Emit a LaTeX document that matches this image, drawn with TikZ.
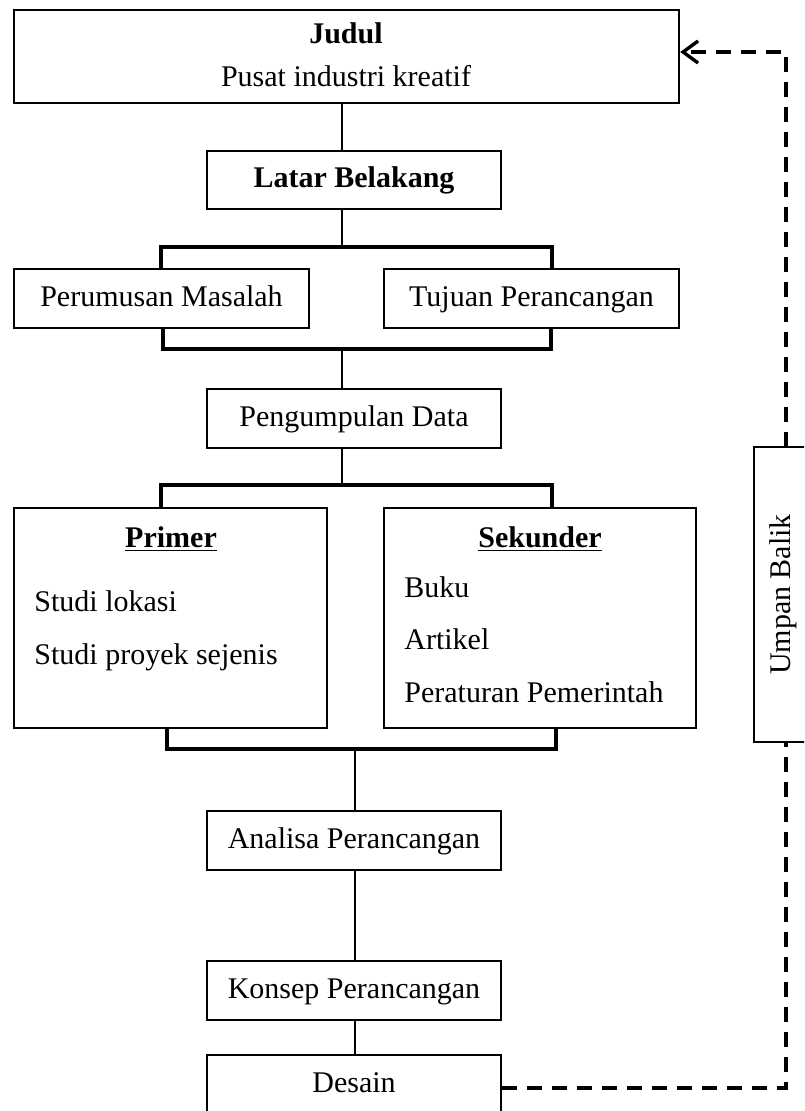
\documentclass[tikz,border=0pt]{standalone}
\usepackage{fontspec}
\setmainfont{Liberation Serif}
\usetikzlibrary{arrows.meta}
\tikzset{
  box/.style={draw, line width=1.2pt, fill=white, inner sep=0pt,
    font=\fontsize{15}{18}\selectfont, text height=11pt, text depth=3pt},
  txt/.style={inner sep=0pt, font=\fontsize{15}{18}\selectfont},
  link/.style={line width=1.4pt},
  bracket/.style={line width=1.7pt, line join=miter},
  fb/.style={line width=1.7pt, dash pattern=on 7.5pt off 5pt,
    -{Straight Barb[length=7.5pt,width=11pt]}}
}
\begin{document}
\begin{tikzpicture}[x=0.5pt,y=-0.5pt]
\useasboundingbox (0,0) rectangle (804,1111);
\fill[white] (0,0) rectangle (804,1111);
\clip (0,0) rectangle (804,1111);

% boxes
\node[box, minimum width=332.5pt, minimum height=46.5pt] (judul) at (346.5,56.5) {};
\node[txt, anchor=base] (judulT) at (346,44) {\textbf{Judul}};
\node[txt, anchor=base] (judulS) at (346,87) {Pusat industri kreatif};

\node[box, minimum width=147pt, minimum height=29pt] (latar) at (354,180) {\textbf{Latar Belakang}};
\node[box, minimum width=147.5pt, minimum height=29.5pt] (perumusan) at (161.5,298.5) {Perumusan Masalah};
\node[box, minimum width=147.5pt, minimum height=29.5pt] (tujuan) at (531.5,298.5) {Tujuan Perancangan};
\node[box, minimum width=147pt, minimum height=29.5pt] (pengumpulan) at (354,418.5) {Pengumpulan Data};

\node[box, minimum width=156.5pt, minimum height=110pt] (primer) at (170.5,618) {};
\node[txt, anchor=base] (primerT) at (171,547) {\textbf{\underline{Primer}}};
\node[txt, anchor=base west] (p1) at (34,611) {Studi lokasi};
\node[txt, anchor=base west] (p2) at (34,664) {Studi proyek sejenis};

\node[box, minimum width=156pt, minimum height=110pt] (sekunder) at (540,618) {};
\node[txt, anchor=base] (sekT) at (540,547) {\textbf{\underline{Sekunder}}};
\node[txt, anchor=base west] (s1) at (404,597) {Buku};
\node[txt, anchor=base west] (s2) at (404,649) {Artikel};
\node[txt, anchor=base west] (s3) at (404,702) {Peraturan Pemerintah};

\node[box, minimum width=147pt, minimum height=29.5pt] (analisa) at (354,840.5) {Analisa Perancangan};
\node[box, minimum width=147pt, minimum height=29.5pt] (konsep) at (354,990.5) {Konsep Perancangan};
\node[box, minimum width=147pt, minimum height=29.5pt] (desain) at (354,1084.5) {Desain};

% connector coordinates
\coordinate (c1) at (342,247);
\coordinate (b1L) at (161,247);
\coordinate (b1R) at (552,247);
\coordinate (c2) at (342,349);
\coordinate (b2L) at (163,349);
\coordinate (b2R) at (551,349);
\coordinate (c3) at (342,485);
\coordinate (b3L) at (161,485);
\coordinate (b3R) at (552,485);
\coordinate (c4) at (355,749);
\coordinate (b4L) at (167,749);
\coordinate (b4R) at (556,749);

\draw[link] (judul.south -| c1) -- (latar.north -| c1);
\draw[link] (latar.south -| c1) -- (c1);
\draw[bracket] (perumusan.north -| b1L) -- (b1L) -- (b1R) -- (tujuan.north -| b1R);

\draw[bracket] (perumusan.south -| b2L) -- (b2L) -- (b2R) -- (tujuan.south -| b2R);
\draw[link] (c2) -- (pengumpulan.north -| c2);

\draw[link] (pengumpulan.south -| c3) -- (c3);
\draw[bracket] (primer.north -| b3L) -- (b3L) -- (b3R) -- (sekunder.north -| b3R);

\draw[bracket] (primer.south -| b4L) -- (b4L) -- (b4R) -- (sekunder.south -| b4R);
\draw[link] (c4) -- (analisa.north -| c4);
\draw[link] (analisa.south -| c4) -- (konsep.north -| c4);
\draw[link] (konsep.south -| c4) -- (desain.north -| c4);

% feedback loop
\coordinate (fbB) at (786,1088);
\coordinate (fbT) at (786,52);
\draw[fb] (desain.east |- fbB) -- (fbB) -- (fbT) -- (judul.east |- fbT);

\node[box, minimum width=147.5pt, minimum height=28pt, rotate=90] (umpan) at (782,594.5) {Umpan Balik};
\end{tikzpicture}
\end{document}
